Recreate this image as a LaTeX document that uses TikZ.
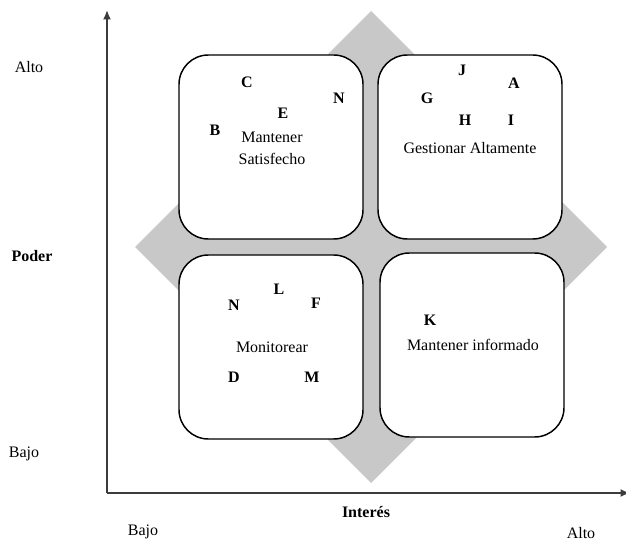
\documentclass[12pt,tikz,border=0pt]{standalone}
\usepackage{fontspec}
\setmainfont{Liberation Serif}
\usetikzlibrary{arrows.meta}
\definecolor{diamondgray}{RGB}{200,200,200}
\definecolor{axisgray}{RGB}{60,60,60}

\begin{document}
\begin{tikzpicture}[x=0.75pt,y=-0.75pt,
  quadbox/.style={draw=black,line width=1.1pt,rounded corners=22pt,fill=white,
    minimum width=138pt,minimum height=138pt},
  actor/.style={font=\bfseries},
  axislabel/.style={font=\bfseries},
  axisline/.style={draw=axisgray,line width=1.3pt}]
\useasboundingbox (0,0) rectangle (626,542);

% diamond behind the four quadrants
\fill[diamondgray] (371,11) -- (607,247) -- (371,483) -- (135,247) -- cycle;

% axes
\coordinate (origin) at (107,493);
\coordinate (ytop) at (107,10);
\coordinate (xend) at (630,493);
\draw[axisline,-{Latex[length=7pt,width=6pt]}] (origin) -- (ytop);
\draw[axisline,-{Latex[length=7pt,width=6pt]}] (origin) -- (xend);

\node (altoy) at (29,67) {Alto};
\node[axislabel] (poder) at (32,256) {Poder};
\node (bajoy) at (24,454) {Bajo};
\node (bajox) at (143,532) {Bajo};
\node[axislabel] (interes) at (366,512) {Interés};
\node (altox) at (581,533) {Alto};

% quadrants
\node[quadbox] (satisfecho) at (271,147) {};
\node[quadbox] (gestionar) at (470,147) {};
\node[quadbox] (monitorear) at (271,347) {};
\node[quadbox] (informado) at (472,345) {};

% mantener satisfecho
\node[align=center] (satlabel) at (272,148) {Mantener\\[2pt]Satisfecho};
\node[actor] (c) at (247,82) {C};
\node[actor] (e) at (283,113) {E};
\node[actor] (b) at (215,130) {B};
\node[actor] (n1) at (339,98) {N};

% gestionar altamente
\node (gestlabel) at (470,148) {Gestionar Altamente};
\node[actor] (j) at (462,70) {J};
\node[actor] (a) at (514,83) {A};
\node[actor] (g) at (427,98) {G};
\node[actor] (h) at (465,120) {H};
\node[actor] (i) at (511,120) {I};

% monitorear
\node (monlabel) at (272,347) {Monitorear};
\node[actor] (l) at (279,289) {L};
\node[actor] (n2) at (234,305) {N};
\node[actor] (f) at (316,303) {F};
\node[actor] (d) at (234,377) {D};
\node[actor] (m) at (312,377) {M};

% mantener informado
\node (inflabel) at (473,345) {Mantener informado};
\node[actor] (k) at (430,320) {K};
\end{tikzpicture}
\end{document}
